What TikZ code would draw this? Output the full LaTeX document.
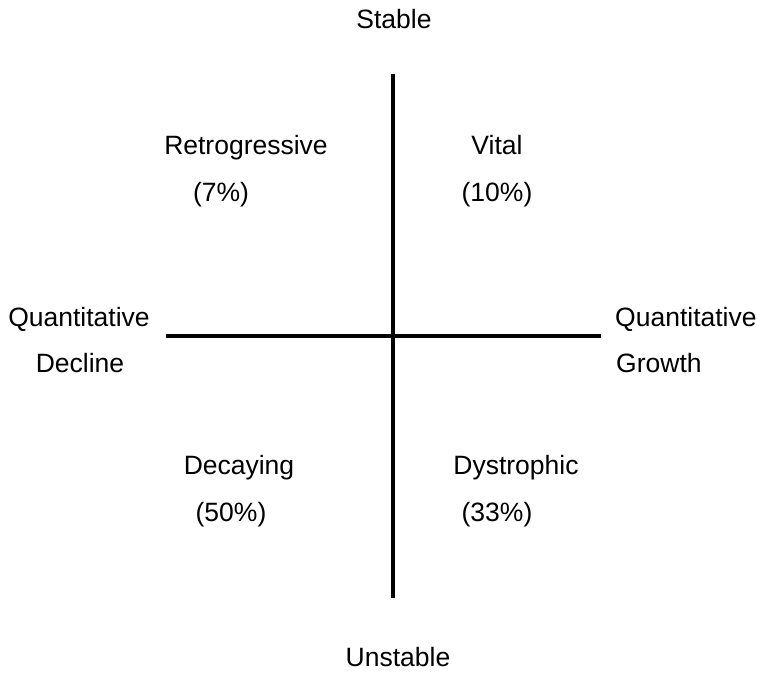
\documentclass[tikz,border=0pt]{standalone}
\usepackage{fontspec}
\setmainfont{Liberation Sans}
\tikzset{
	lbl/.style={inner sep=0pt,anchor=base,font=\fontsize{26.5}{31}\selectfont},
	axis/.style={line width=4pt},
}
\begin{document}
\begin{tikzpicture}[x=1pt,y=-1pt]
			\useasboundingbox (0,0) rectangle (757,673);
			\coordinate (top) at (393,74);
			\coordinate (bottom) at (393,598);
			\coordinate (left) at (166,336);
			\coordinate (right) at (601,336);
			\draw [axis] (top) -- (bottom);
			\draw [axis] (left) -- (right);
			\node [lbl] (stable) at (394,28) {Stable};
			\node [lbl] (unstable) at (398,666) {Unstable};
			\node [lbl] (declineA) at (79,326) {Quantitative};
			\node [lbl] (declineB) at (80,372) {Decline};
			\node [lbl,anchor=base west] (growthA) at (615,326) {Quantitative};
			\node [lbl,anchor=base west] (growthB) at (616,372) {Growth};
			\node [lbl] (retro) at (246,154) {Retrogressive};
			\node [lbl] (retroP) at (221,201) {(7\%)};
			\node [lbl] (vital) at (497,154) {Vital};
			\node [lbl] (vitalP) at (497,201) {(10\%)};
			\node [lbl] (decay) at (239,474) {Decaying};
			\node [lbl] (decayP) at (231,521) {(50\%)};
			\node [lbl] (dystro) at (516,474) {Dystrophic};
			\node [lbl] (dystroP) at (497,521) {(33\%)};
		\end{tikzpicture}
\end{document}
